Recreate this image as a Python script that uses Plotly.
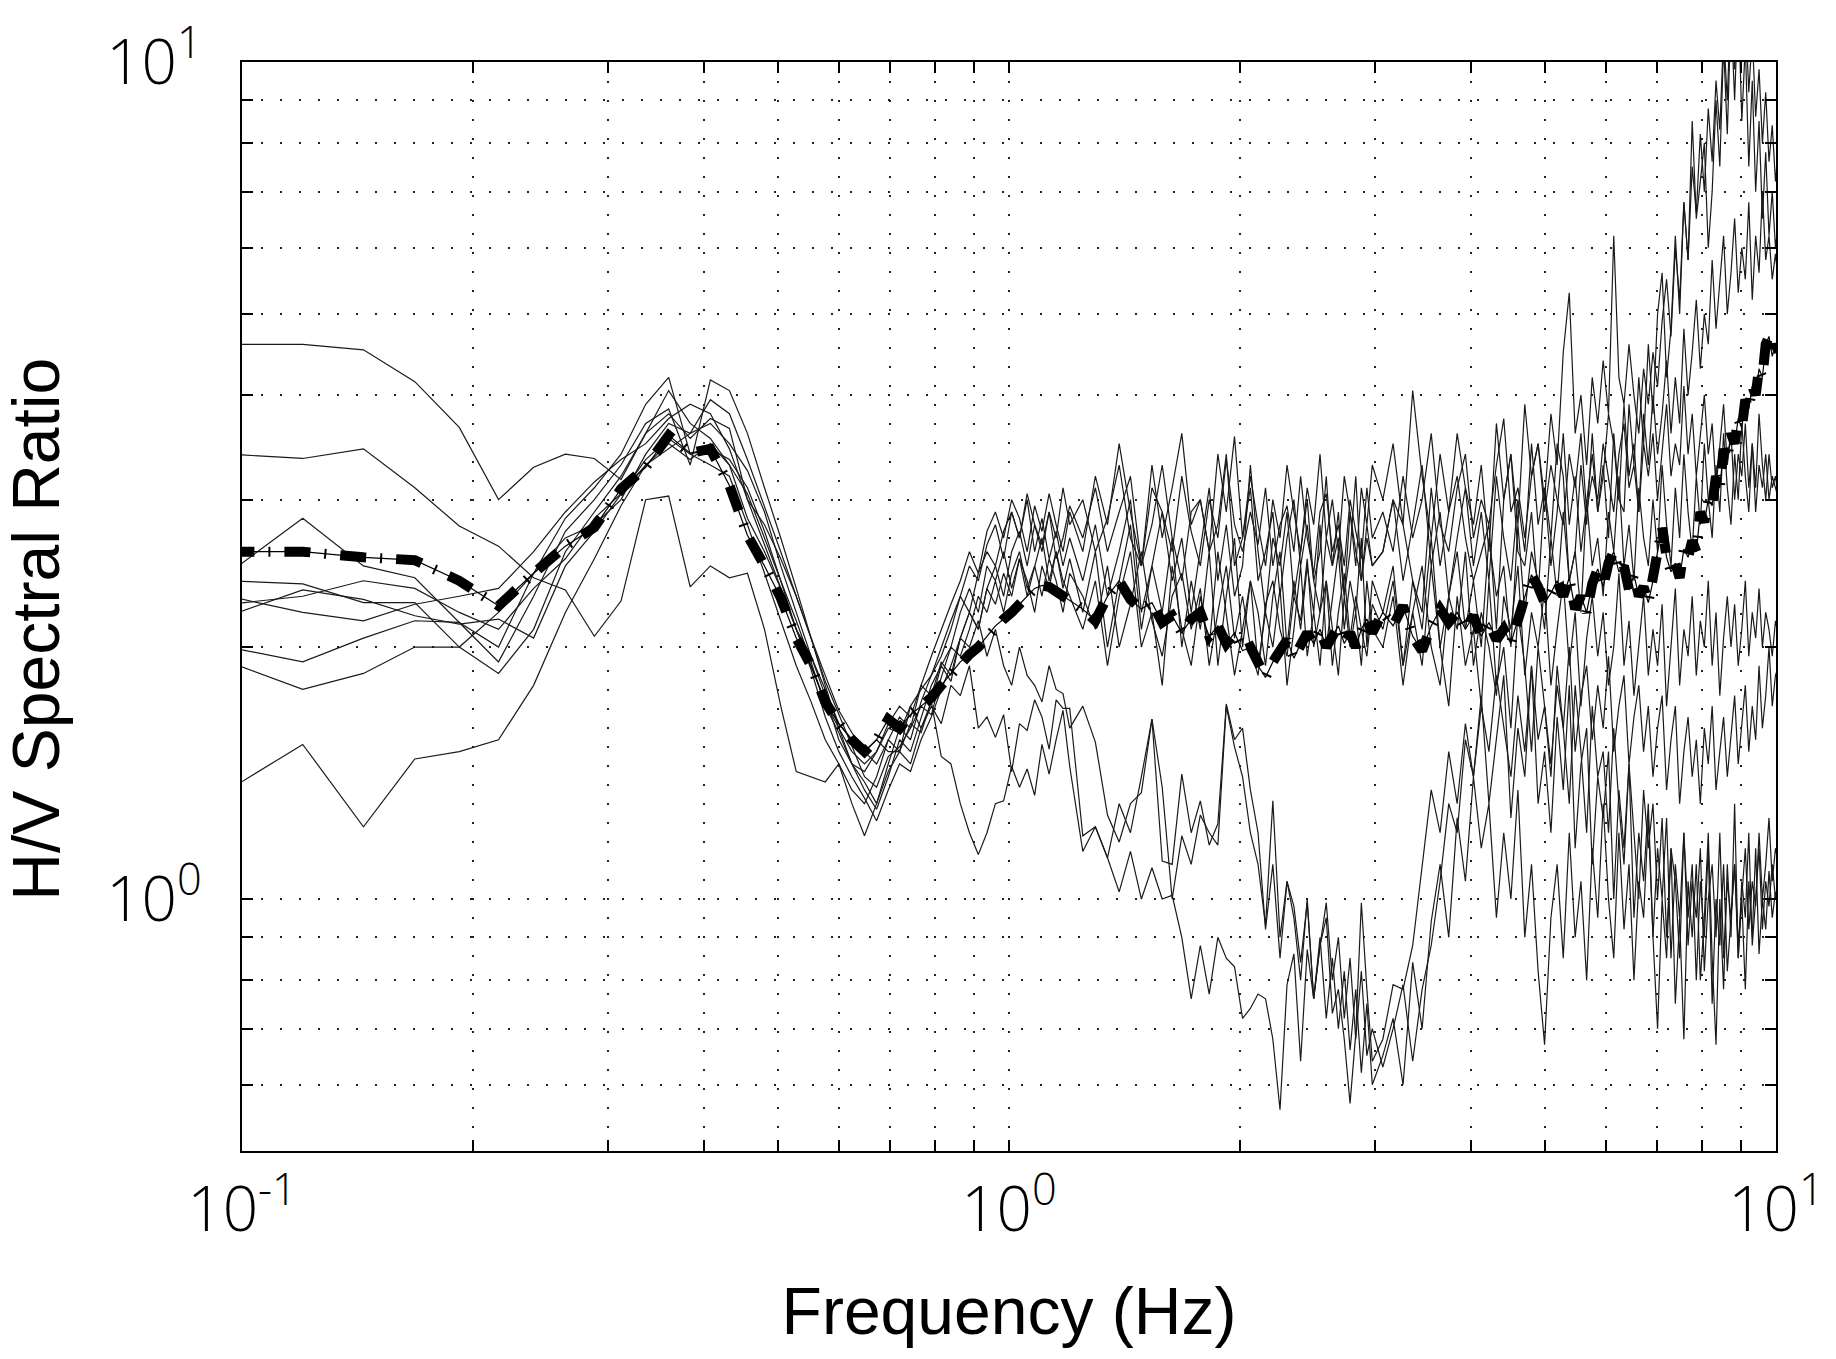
import plotly.graph_objects as go
import math

# ---------------- data ----------------
FREQ = [
    0.096, 0.12, 0.144, 0.168, 0.192, 0.216, 0.24, 0.264, 0.288, 0.312,
    0.336, 0.36, 0.384, 0.408, 0.432, 0.456,
    0.48, 0.504, 0.528, 0.552, 0.576, 0.6, 0.624, 0.648, 0.672, 0.696,
    0.72, 0.744, 0.768, 0.792, 0.816, 0.84, 0.864, 0.888, 0.912, 0.936,
    0.96, 0.984, 1.008, 1.032, 1.056, 1.08, 1.104, 1.128, 1.152, 1.176,
    1.2,
    1.248, 1.296, 1.344, 1.392, 1.44, 1.488, 1.536, 1.584, 1.632, 1.68,
    1.728, 1.776, 1.824, 1.872, 1.92, 1.968, 2.016, 2.064, 2.112, 2.16,
    2.208, 2.256, 2.304, 2.352, 2.4, 2.448, 2.496, 2.544, 2.592, 2.64,
    2.688, 2.736, 2.784, 2.832, 2.88, 2.928, 2.976,
    3.072, 3.168, 3.264, 3.36, 3.456, 3.552, 3.648, 3.744, 3.84, 3.936,
    4.032, 4.128, 4.224, 4.32, 4.416, 4.512, 4.608, 4.704, 4.8, 4.896,
    4.992, 5.088, 5.184, 5.28, 5.376, 5.472, 5.568, 5.664, 5.76, 5.856,
    5.952, 6.048, 6.144, 6.24, 6.336, 6.432, 6.528, 6.624, 6.72, 6.816,
    6.912, 7.008, 7.104, 7.2, 7.296, 7.392, 7.488, 7.584, 7.68, 7.776,
    7.872, 7.968, 8.064, 8.16, 8.256, 8.352, 8.448, 8.544, 8.64, 8.736,
    8.832, 8.928, 9.024, 9.12, 9.216, 9.312, 9.408, 9.504, 9.6, 9.696,
    9.792, 9.888, 9.984, 10.08,
]

HV_1 = [
    4.6, 4.6, 4.53, 4.15, 3.66, 3.0, 3.28, 3.4, 3.36, 3.17, 3.6, 4.05, 3.7, 3.55, 3.3, 2.85,
    2.6, 2.35, 2.1, 1.95, 1.78, 1.62, 1.55, 1.5, 1.55, 1.5, 1.5, 1.62, 1.58, 1.72, 1.9, 1.82,
    2.05, 2.2, 2.1, 2.35, 2.5, 2.3, 2.6, 2.75, 2.5, 2.8, 2.65, 2.9, 2.55, 2.7, 2.95,
    2.7, 3.1, 2.6, 2.9, 3.2, 2.5, 2.8, 3.3, 2.7, 2.4, 2.9, 3.0, 2.6, 2.8, 3.4, 2.5, 2.7, 3.1,
    2.4, 2.6, 2.9, 2.3, 2.7, 3.0, 2.5, 2.8, 2.4, 2.6, 3.2, 2.5, 2.7, 2.3, 2.9, 2.6, 2.4, 2.8, 2.5,
    2.6, 3.0, 2.8, 2.4, 2.2, 3.1, 2.5, 2.9, 3.2, 2.7,
    2.4, 2.6, 2.8, 2.1, 3.0, 3.4, 2.6, 2.5, 2.9, 2.3,
    3.1, 2.7, 3.5, 3.2, 2.4, 2.6, 3.3, 2.8, 3.6, 2.9,
    3.2, 3.8, 3.5, 3.0, 2.9, 3.9, 3.3, 4.2, 3.5, 4.6,
    3.8, 5.0, 5.6, 4.2, 4.8, 6.2, 5.0, 6.8, 5.8, 8.5,
    6.5, 7.2, 8.0, 6.0, 7.0, 9.0, 7.5, 10.5, 8.2, 11.5,
    9.0, 12.0, 8.5, 10.5, 7.5, 9.5, 7.0, 8.5, 6.5, 7.8,
    6.2, 7.0, 6.0, 6.5,
]

HV_2 = [
    3.4, 3.36, 3.45, 3.1, 2.79, 2.64, 2.42, 2.34, 2.06, 2.27, 3.0, 3.03, 2.36, 2.5, 2.42, 2.45,
    2.1, 1.7, 1.42, 1.4, 1.38, 1.45, 1.35, 1.3, 1.4, 1.55, 1.5, 1.7, 1.6, 1.72, 1.48, 1.45,
    1.3, 1.2, 1.13, 1.2, 1.3, 1.31, 1.44, 1.36, 1.43, 1.33, 1.53, 1.41, 1.55, 1.68, 1.44,
    1.14, 1.22, 1.12, 1.02, 1.14, 1.0, 1.09, 1.0, 1.01, 0.9, 0.76, 0.88, 0.77, 0.9, 0.85, 0.83,
    0.72, 0.74, 0.77, 0.76, 0.68, 0.56, 0.79, 0.86, 0.64, 0.87, 0.76, 0.88, 0.95, 0.73, 0.78,
    0.68, 0.57, 0.69, 0.99, 0.78, 0.64,
    0.68, 0.79, 0.78, 0.88, 1.1, 1.35, 1.2, 1.5, 1.3, 1.62,
    1.4, 1.75, 1.3, 1.55, 1.85, 1.25, 1.6, 1.4, 1.9, 1.3,
    1.5, 1.2, 1.65, 1.35, 1.8, 1.15, 1.45, 1.6, 1.1, 1.4,
    1.25, 1.5, 1.0, 1.35, 1.15, 1.45, 0.95, 1.2, 1.05, 1.3,
    0.9, 1.15, 1.0, 1.25, 0.85, 1.1, 0.95, 1.2, 0.88, 1.05,
    0.95, 1.15, 0.82, 1.0, 1.1, 0.9, 1.2, 0.85, 1.05, 0.95,
    1.1, 0.88, 1.0, 1.15, 0.92, 1.05, 0.98, 1.2, 1.0, 1.1,
    1.25, 1.05, 1.15, 1.1,
]

HV_3 = [
    2.45, 2.85, 2.5, 2.42, 2.14, 2.0, 2.45, 2.85, 3.1, 3.4, 3.9, 4.2, 3.4, 3.3, 3.2, 2.8,
    2.45, 2.15, 1.9, 1.72, 1.55, 1.45, 1.3, 1.19, 1.3, 1.45, 1.6, 1.55, 1.72, 1.85, 1.95, 2.1,
    2.3, 2.2, 2.45, 2.6, 2.5, 2.75, 2.9, 2.7, 3.0, 2.6, 2.85, 2.55, 2.75, 2.5, 2.7,
    2.4, 2.8, 2.3, 2.6, 3.0, 2.2, 2.5, 2.9, 2.4, 2.7, 2.2, 2.6, 3.1, 2.4, 2.8, 2.3, 2.5, 3.3,
    2.6, 2.2, 2.7, 2.5, 2.9, 2.3, 2.6, 3.0, 2.4, 2.2, 2.7, 2.5, 2.9, 2.3, 2.6, 3.2, 2.4, 2.7, 2.5,
    2.6, 3.0, 2.4, 2.8, 3.3, 2.5, 2.9, 2.3, 2.7, 3.1,
    2.5, 2.9, 2.4, 3.2, 2.7, 2.4, 3.0, 2.6, 3.5, 2.8,
    3.1, 2.5, 2.9, 3.6, 2.8, 3.2, 2.6, 3.0, 3.4, 2.9,
    3.3, 2.7, 3.6, 3.0, 3.9, 3.2, 3.5, 2.9, 3.8, 3.3,
    4.0, 3.4, 3.8, 4.4, 3.6, 4.2, 3.7, 4.8, 4.0, 4.5,
    5.2, 4.3, 5.0, 4.6, 5.8, 4.8, 5.4, 6.2, 5.0, 5.6,
    6.5, 5.3, 6.0, 5.5, 6.8, 5.2, 6.2, 5.6, 7.0, 5.8,
    6.2, 5.5, 5.9, 5.4,
]

HV_4 = [
    2.4, 2.38, 2.26, 2.26, 2.0, 1.86, 2.1, 2.6, 2.9, 3.2, 3.6, 3.8, 3.55, 3.75, 3.65, 3.0,
    2.8, 2.55, 2.3, 2.05, 1.85, 1.68, 1.58, 1.5, 1.45, 1.55, 1.65, 1.6, 1.8, 1.95, 2.1, 2.25,
    2.4, 2.6, 2.45, 2.75, 2.9, 2.7, 3.0, 2.85, 2.6, 2.95, 2.75, 3.05, 2.8, 2.6, 2.9,
    2.6, 3.2, 2.8, 3.5, 2.9, 2.5, 3.3, 2.7, 3.1, 3.6, 2.8, 3.0, 2.6, 3.4, 2.9, 3.57, 2.7, 3.2,
    2.8, 2.5, 3.0, 2.7, 3.3, 2.9, 2.6, 3.1, 2.8, 3.4, 2.7, 3.0, 2.6, 3.2, 2.9, 2.5, 3.1, 2.8, 3.3,
    3.0, 3.5, 2.8, 4.05, 3.2, 2.7, 3.4, 2.9, 3.6, 3.1,
    2.8, 3.3, 2.6, 3.7, 3.0, 3.4, 2.8, 3.9, 3.2, 3.5,
    3.0, 3.8, 3.3, 4.5, 5.3, 3.6, 4.0, 3.3, 4.2, 3.7,
    4.4, 3.8, 6.2, 4.2, 3.9, 4.6, 4.0, 3.6, 4.3, 3.9,
    4.5, 4.1, 4.9, 5.5, 4.7, 6.0, 5.2, 6.8, 5.8, 7.5,
    6.6, 8.2, 7.0, 8.8, 7.6, 9.5, 8.3, 10.8, 9.0, 12.0,
    9.8, 13.0, 10.5, 11.5, 9.2, 10.8, 8.6, 9.8, 8.0, 9.2,
    7.6, 8.4, 7.2, 8.0,
]

HV_5 = [
    2.18, 2.34, 2.28, 2.18, 2.13, 2.16, 2.05, 2.5, 2.75, 3.05, 3.35, 3.55, 3.4, 3.45, 3.35, 3.1,
    2.75, 2.4, 2.15, 1.92, 1.7, 1.58, 1.45, 1.42, 1.5, 1.62, 1.7, 1.65, 1.8, 1.75, 1.92, 1.85,
    2.05, 2.0, 2.15, 1.95, 2.1, 1.9, 1.8, 2.0, 1.85, 1.8, 1.72, 1.9, 1.78, 1.76, 1.6,
    1.7, 1.54, 1.26, 1.17, 1.3, 1.34, 1.64, 1.36, 1.0, 1.19, 1.1, 1.26, 1.2, 1.16, 1.7, 1.52,
    1.4, 1.2, 1.1, 0.93, 1.31, 0.9, 1.05, 0.98, 0.84, 0.99, 0.76, 0.88, 0.99, 0.8, 0.9, 0.72,
    0.85, 0.68, 0.82, 0.65, 0.7,
    0.63, 0.7, 0.79, 0.64, 0.78, 0.88, 1.05, 1.3, 1.2, 1.55,
    1.4, 1.7, 1.5, 1.85, 1.6, 1.4, 1.75, 1.5, 1.9, 1.55,
    1.7, 1.45, 1.8, 1.6, 2.0, 1.5, 1.75, 1.9, 1.55, 1.8,
    1.6, 1.95, 1.5, 1.7, 1.85, 1.45, 1.65, 1.8, 1.5, 1.7,
    1.4, 1.6, 1.75, 1.35, 1.55, 1.7, 1.3, 1.5, 1.65, 1.4,
    1.55, 1.3, 1.6, 1.45, 1.7, 1.35, 1.5, 1.65, 1.4, 1.55,
    1.75, 1.45, 1.6, 1.8, 1.5, 1.7, 1.55, 1.9, 1.6, 1.75,
    2.0, 1.7, 1.85, 1.9,
]

HV_6 = [
    2.0, 1.92, 2.05, 2.15, 2.14, 1.92, 2.3, 2.75, 3.0, 3.3, 3.7, 3.85, 3.3, 4.17, 4.05, 3.6,
    3.1, 2.7, 2.35, 2.05, 1.8, 1.6, 1.45, 1.35, 1.28, 1.4, 1.55, 1.5, 1.65, 1.8, 1.9, 2.0,
    2.2, 2.35, 2.2, 2.5, 2.4, 2.6, 2.35, 2.55, 2.3, 2.5, 2.7, 2.4, 2.6, 2.35, 2.55,
    2.2, 2.6, 2.0, 2.4, 2.8, 2.1, 2.5, 2.2, 2.7, 2.0, 2.4, 2.1, 2.6, 1.9, 2.3, 2.7, 2.0, 2.4,
    2.2, 1.9, 2.3, 2.6, 2.0, 2.4, 2.1, 2.5, 2.2, 2.8, 2.0, 2.3, 2.6, 2.1, 2.4, 2.2, 2.7, 2.0, 2.4,
    2.2, 2.5, 1.9, 2.4, 2.1, 2.7, 2.0, 2.3, 2.6, 2.1,
    2.4, 2.0, 2.7, 2.3, 2.5, 2.0, 2.8, 2.2, 2.6, 2.4,
    2.1, 2.7, 2.3, 2.9, 2.4, 2.6, 2.2, 3.0, 2.5, 2.7,
    2.3, 2.9, 2.6, 3.2, 2.5, 2.8, 2.4, 3.1, 2.7, 2.5,
    3.0, 2.6, 3.3, 2.8, 2.5, 3.1, 2.7, 3.4, 2.9, 2.6,
    3.2, 2.8, 3.5, 3.0, 2.7, 3.3, 2.9, 3.6, 3.1, 2.8,
    3.4, 3.0, 3.7, 3.2, 2.9, 3.5, 3.1, 3.8, 3.3, 3.0,
    3.4, 3.1, 3.2, 3.0,
]

HV_7 = [
    1.92, 1.78, 1.86, 2.0, 2.0, 2.2, 2.45, 2.7, 2.8, 3.0, 3.4, 3.7, 3.6, 3.7, 3.5, 3.25,
    2.9, 2.5, 2.2, 1.95, 1.75, 1.55, 1.45, 1.38, 1.3, 1.42, 1.5, 1.45, 1.6, 1.7, 1.62, 1.8,
    1.75, 1.9, 1.6, 1.65, 1.56, 1.66, 1.42, 1.62, 1.59, 1.73, 1.65, 1.51, 1.73, 1.69, 1.69,
    1.19, 1.22, 1.12, 1.3, 1.2, 1.4, 1.64, 1.11, 1.1, 1.41, 1.2, 1.31, 1.16, 1.23, 1.71, 1.55,
    1.6, 1.35, 1.2, 0.92, 1.1, 0.85, 1.05, 0.95, 0.8, 1.0, 0.76, 0.9, 0.72, 0.85, 0.7, 0.82,
    0.66, 0.78, 0.62, 0.75, 0.6,
    0.65, 0.72, 0.6, 0.84, 0.7, 0.94, 1.1, 0.9, 1.25, 1.05,
    1.4, 1.15, 1.3, 0.95, 1.2, 1.0, 1.35, 0.9, 1.1, 0.82,
    0.67, 0.95, 1.1, 0.85, 1.2, 0.9, 1.05, 0.8, 1.15, 0.95,
    1.3, 1.0, 0.85, 1.2, 0.92, 1.1, 0.8, 1.05, 0.95, 1.25,
    0.9, 0.7, 1.0, 0.85, 1.15, 0.75, 0.95, 0.68, 1.05, 0.9,
    1.1, 0.8, 0.95, 1.2, 0.85, 0.67, 1.0, 0.78, 1.1, 0.9,
    1.3, 0.85, 1.05, 0.95, 1.2, 0.88, 1.0, 1.15, 0.92, 1.05,
    0.98, 1.1, 1.0, 1.05,
]

HV_8 = [
    1.35, 1.53, 1.22, 1.47, 1.5, 1.55, 1.8, 2.2, 2.55, 2.95, 3.3, 3.5, 3.35, 3.5, 3.3, 3.05,
    2.7, 2.4, 2.1, 1.88, 1.65, 1.5, 1.4, 1.32, 1.24, 1.35, 1.45, 1.42, 1.55, 1.65, 1.78, 1.9,
    2.05, 2.2, 2.1, 2.35, 2.25, 2.45, 2.3, 2.55, 2.4, 2.2, 2.5, 2.35, 2.6, 2.4, 2.3,
    2.1, 2.4, 1.9, 2.3, 2.6, 2.0, 2.2, 1.8, 2.5, 2.1, 1.9, 2.3, 2.0, 2.6, 2.2, 1.85, 2.1, 2.4,
    1.9, 2.2, 2.0, 2.35, 1.8, 2.1, 2.5, 1.95, 2.2, 1.9, 2.4, 2.1, 1.85, 2.3, 2.0, 2.2, 1.9, 2.4, 2.1,
    2.0, 2.3, 1.8, 2.2, 1.9, 2.5, 2.0, 1.7, 2.3, 1.9,
    2.1, 1.7, 2.4, 1.8, 2.0, 1.6, 2.2, 1.9, 1.5, 2.0,
    1.7, 1.4, 1.9, 1.6, 1.3, 1.8, 1.5, 1.2, 1.7, 1.4,
    1.5, 1.2, 1.6, 1.3, 1.1, 1.45, 1.2, 1.0, 1.35, 1.15,
    1.3, 1.0, 1.25, 0.9, 1.15, 1.05, 0.85, 1.2, 0.95, 1.1,
    0.8, 1.05, 0.9, 1.15, 0.75, 1.0, 0.88, 1.1, 0.82, 0.95,
    1.1, 0.85, 1.0, 0.78, 1.05, 0.9, 1.15, 0.86, 1.0, 0.92,
    1.08, 0.95, 1.02, 0.98,
]

HV_9 = [
    2.3, 2.2, 2.15, 2.25, 2.3, 2.35, 2.6, 2.9, 3.15, 3.35, 3.5, 3.75, 3.9, 3.8, 3.45, 3.0,
    2.65, 2.35, 2.1, 1.9, 1.72, 1.6, 1.5, 1.45, 1.5, 1.6, 1.58, 1.7, 1.78, 1.85, 2.0, 2.15,
    2.3, 2.5, 2.4, 2.65, 2.8, 2.55, 2.9, 2.7, 3.05, 2.8, 2.6, 2.9, 2.7, 3.1, 2.8,
    3.0, 2.6, 2.85, 3.3, 2.7, 2.5, 3.1, 2.9, 2.6, 3.2, 2.75, 2.5, 3.0, 2.7, 3.35, 2.8, 2.6, 2.9,
    2.65, 3.1, 2.5, 2.8, 2.95, 2.6, 3.2, 2.7, 2.45, 2.9, 3.05, 2.6, 2.8, 2.5, 3.0, 2.75, 2.55, 3.1, 2.7,
    2.9, 2.6, 3.2, 2.7, 3.0, 3.6, 2.8, 2.6, 3.1, 3.4,
    2.7, 3.0, 2.8, 3.3, 3.75, 2.9, 3.1, 2.7, 3.2, 3.5,
    2.9, 3.3, 3.0, 2.8, 3.4, 3.1, 3.6, 2.9, 3.2, 3.0,
    3.5, 3.2, 2.9, 3.4, 3.7, 3.1, 3.3, 2.9, 3.5, 3.2,
    3.6, 3.0, 3.4, 3.9, 3.2, 3.5, 3.3, 4.1, 3.4, 3.8,
    3.2, 3.6, 4.0, 3.4, 3.7, 3.1, 3.5, 3.9, 3.3, 3.6,
    3.0, 3.4, 3.2, 3.7, 3.1, 3.5, 2.9, 3.3, 3.1, 3.4,
    3.0, 3.2, 3.1, 3.0,
]

HV_10 = [
    2.25, 2.3, 2.4, 2.35, 2.2, 2.1, 2.35, 2.55, 2.85, 3.05, 3.3, 3.45, 3.6, 3.95, 3.8, 3.35,
    2.95, 2.6, 2.3, 2.05, 1.82, 1.66, 1.52, 1.4, 1.36, 1.48, 1.52, 1.6, 1.7, 1.66, 1.84, 2.0,
    1.95, 2.1, 2.3, 2.2, 2.4, 2.2, 2.45, 2.6, 2.35, 2.5, 2.3, 2.55, 2.4, 2.2, 2.45,
    2.3, 2.1, 2.5, 2.0, 2.25, 2.6, 2.15, 1.95, 2.3, 2.45, 2.1, 2.35, 1.9, 2.2, 2.5, 2.05, 2.3, 2.0,
    1.85, 2.25, 2.4, 2.1, 1.95, 2.3, 2.15, 2.55, 2.0, 2.2, 2.4, 1.9, 2.2, 2.45, 2.05, 2.3, 2.1, 1.95, 2.25,
    2.1, 2.4, 1.9, 2.2, 2.5, 2.0, 1.8, 2.3, 2.1, 2.6,
    1.9, 2.2, 2.0, 1.75, 2.3, 2.1, 2.5, 1.85, 2.2, 2.0,
    2.35, 1.8, 2.1, 2.4, 1.9, 2.2, 1.7, 2.05, 2.3, 1.95,
    2.2, 1.8, 2.0, 2.45, 1.9, 2.15, 1.75, 2.0, 2.3, 1.85,
    2.1, 1.9, 2.25, 1.7, 2.0, 2.35, 1.8, 2.1, 1.95, 2.3,
    1.85, 2.15, 2.0, 2.4, 1.9, 2.2, 1.75, 2.05, 2.3, 2.0,
    2.25, 1.9, 2.1, 2.4, 1.95, 2.2, 2.05, 2.35, 2.0, 2.2,
    2.1, 1.95, 2.15, 2.05,
]

HV_MEAN = [
    2.6, 2.6, 2.56, 2.54, 2.4, 2.24, 2.45, 2.64, 2.78, 3.09, 3.28, 3.58, 3.41, 3.45, 3.12, 2.72,
    2.5, 2.29, 2.05, 1.9, 1.72, 1.62, 1.55, 1.5, 1.55, 1.64, 1.6, 1.66, 1.7, 1.74, 1.8, 1.86,
    1.92, 1.96, 2.0, 2.06, 2.12, 2.16, 2.2, 2.25, 2.3, 2.35, 2.37, 2.36, 2.33, 2.3, 2.27,
    2.22, 2.15, 2.3, 2.4, 2.28, 2.22, 2.26, 2.14, 2.18, 2.08, 2.16, 2.2, 2.06, 2.12, 2.02, 2.08,
    1.98, 2.0, 1.9, 1.84, 1.92, 1.98, 2.04, 1.94, 2.02, 2.08, 2.02, 2.1, 2.0, 2.06, 2.12, 2.02,
    2.08, 2.0, 2.1, 2.16, 2.08,
    2.2, 2.12, 2.24, 2.06, 1.98, 2.12, 2.22, 2.14, 2.2, 2.1,
    2.18, 2.06, 2.14, 2.04, 2.1, 2.02, 2.16, 2.3, 2.44, 2.36,
    2.26, 2.32, 2.4, 2.3, 2.42, 2.22, 2.3, 2.2, 2.38, 2.48,
    2.36, 2.52, 2.6, 2.46, 2.5, 2.34, 2.44, 2.3, 2.36, 2.26,
    2.4, 2.6, 2.78, 2.56, 2.46, 2.52, 2.42, 2.62, 2.56, 2.68,
    2.6, 2.9, 2.82, 3.0, 2.95, 3.2, 3.1, 3.45, 3.35, 3.6,
    3.5, 3.75, 3.65, 3.95, 3.85, 4.1, 4.0, 4.3, 4.2, 4.6,
    4.7, 4.45, 4.6, 4.5,
]

CURVES = [HV_1, HV_2, HV_3, HV_4, HV_5, HV_6, HV_7, HV_8, HV_9, HV_10]

X_TICKS = [0.1, 0.2, 0.3, 0.4, 0.5, 0.6, 0.7, 0.8, 0.9,
           1, 2, 3, 4, 5, 6, 7, 8, 9, 10]
X_LABELS = ["10<sup>-1</sup>", "", "", "", "", "", "", "", "",
            "10<sup>0</sup>", "", "", "", "", "", "", "", "", "10<sup>1</sup>"]
Y_TICKS = [0.5, 0.6, 0.7, 0.8, 0.9, 1, 2, 3, 4, 5, 6, 7, 8, 9, 10]
Y_LABELS = ["", "", "", "", "", "10<sup>0</sup>", "", "", "", "", "", "", "", "", "10<sup>1</sup>"]

X_TITLE = "Frequency (Hz)"
Y_TITLE = "H/V Spectral Ratio"

# ---------------- figure ----------------
fig = go.Figure()

for c in CURVES:
    n = min(len(FREQ), len(c))
    fig.add_trace(go.Scatter(
        x=FREQ[:n], y=c[:n], mode="lines",
        line=dict(color="#1a1a1a", width=1.2),
        hoverinfo="skip", showlegend=False,
    ))

n = min(len(FREQ), len(HV_MEAN))
fig.add_trace(go.Scatter(
    x=FREQ[:n], y=HV_MEAN[:n], mode="lines",
    line=dict(color="black", width=1.2),
    hoverinfo="skip", showlegend=False,
))
fig.add_trace(go.Scatter(
    x=FREQ[:n], y=HV_MEAN[:n], mode="lines",
    line=dict(color="black", width=10, dash="26px,14px,2px,14px"),
    hoverinfo="skip", showlegend=False,
))

tick_font = dict(family="Open Sans, Roboto, Liberation Sans, sans-serif",
                 size=62, color="black", weight=300)
title_font = dict(family="Liberation Sans, Arial, sans-serif", size=66, color="black")

common = dict(
    type="log",
    ticks="inside", ticklen=11, tickwidth=1.5, tickcolor="black",
    showline=True, linecolor="black", linewidth=1.8, mirror="allticks",
    showgrid=True, gridcolor="#222222", gridwidth=1.6, griddash="2px,17px",
    zeroline=False, tickfont=tick_font,
)

fig.update_xaxes(
    range=[-1, 1], tickvals=X_TICKS, ticktext=X_LABELS,
    title=dict(text=X_TITLE, font=title_font, standoff=40),
    ticklabelstandoff=4,
    **common,
)
fig.update_yaxes(
    range=[math.log10(0.5), 1], tickvals=Y_TICKS, ticktext=Y_LABELS,
    ticklabelstandoff=26,
    **common,
)

fig.add_annotation(
    text=Y_TITLE, textangle=-90, font=title_font,
    xref="paper", yref="paper", x=-0.1344, y=0.4795,
    xanchor="center", yanchor="middle", showarrow=False,
)

fig.update_layout(
    width=1836, height=1359,
    margin=dict(l=242, r=54, t=56, b=208),
    paper_bgcolor="white", plot_bgcolor="white",
    showlegend=False,
)

fig.write_html("out.html")
